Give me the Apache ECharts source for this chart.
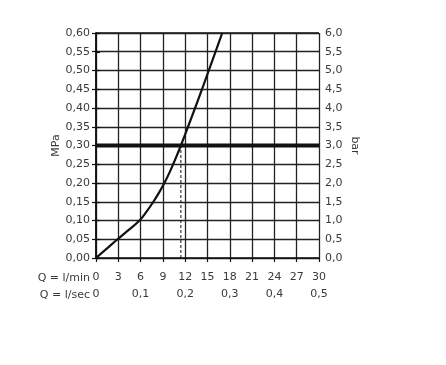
<!DOCTYPE html>
<html><head><meta charset="utf-8">
<script src="https://cdn.jsdelivr.net/npm/echarts@6/dist/echarts.min.js"></script>
<style>html,body{margin:0;padding:0;background:#fff}#c{width:446px;height:365px}</style>
</head><body><div id="c"></div>
<script>
// Flow curve: Q (l/min) vs pressure (MPa)
const flowLmin = [0, 1.45, 2.9, 4.4, 5.85, 6.85, 7.72, 8.5, 9.2, 9.82, 10.38, 10.91, 11.42, 12.38, 13.33, 14.26, 15.17, 16.08, 16.98];
const pressureMPa = [0, 0.025, 0.05, 0.075, 0.10, 0.125, 0.15, 0.175, 0.20, 0.225, 0.25, 0.275, 0.30, 0.35, 0.40, 0.45, 0.50, 0.55, 0.60];
const refPressure = 0.30;
const refFlow = 11.42;
const xMinLabel = 'Q = l/min';
const xSecLabel = 'Q = l/sec';

const font = 'DejaVu Sans';
const txt = '#3a3a3a';
const chart = echarts.init(document.getElementById('c'));
const fmtComma = (v, d) => v.toFixed(d).replace('.', ',');

chart.setOption({
  animation: false,
  grid: {left: 96, right: 127, top: 33, bottom: 107, show: false},
  xAxis: [
    {type: 'value', min: 0, max: 30, interval: 3, position: 'bottom',
     axisLine: {show: true, onZero: false, lineStyle: {color: '#111', width: 1.5}},
     axisTick: {show: true, inside: false, length: 4, lineStyle: {color: '#111', width: 1.2}},
     axisLabel: {color: txt, fontFamily: font, fontSize: 11, margin: 14},
     splitLine: {show: true, lineStyle: {color: '#222', width: 1.3}}},
    {type: 'value', min: 0, max: 0.5, interval: 0.1, position: 'bottom',
     axisLine: {show: false}, axisTick: {show: false}, splitLine: {show: false},
     axisLabel: {color: txt, fontFamily: font, fontSize: 11, margin: 31,
       formatter: v => v === 0 ? '0' : fmtComma(v, 1)}}
  ],
  yAxis: [
    {type: 'value', min: 0, max: 0.6, interval: 0.05, position: 'left',
     name: 'MPa', nameLocation: 'middle', nameGap: 28, nameRotate: 90,
     nameTextStyle: {color: txt, fontFamily: font, fontSize: 11},
     axisLine: {show: true, lineStyle: {color: '#111', width: 1.5}},
     axisTick: {show: true, length: 4, lineStyle: {color: '#111', width: 1.2}},
     axisLabel: {color: txt, fontFamily: font, fontSize: 11, margin: 6, formatter: v => fmtComma(v, 2)},
     splitLine: {show: true, lineStyle: {color: '#222', width: 1.3}}},
    {type: 'value', min: 0, max: 6, interval: 0.5, position: 'right',
     name: 'bar', nameLocation: 'middle', nameGap: 30, nameRotate: -90,
     nameTextStyle: {color: txt, fontFamily: font, fontSize: 11},
     axisLine: {show: true, lineStyle: {color: '#111', width: 1.5}},
     axisTick: {show: true, length: 4, lineStyle: {color: '#111', width: 1.2}},
     axisLabel: {color: txt, fontFamily: font, fontSize: 11, margin: 6, formatter: v => fmtComma(v, 1)},
     splitLine: {show: false}}
  ],
  graphic: [
    {type: 'line', shape: {x1: 96, y1: 33, x2: 319, y2: 33}, style: {stroke: '#111', lineWidth: 1.5}},
    {type: 'text', x: 90, y: 278, style: {text: xMinLabel, fill: txt, font: '11px ' + font, textAlign: 'right', textVerticalAlign: 'middle'}},
    {type: 'text', x: 90, y: 295, style: {text: xSecLabel, fill: txt, font: '11px ' + font, textAlign: 'right', textVerticalAlign: 'middle'}}
  ],
  series: [
    {type: 'line', data: [[0, refPressure], [30, refPressure]], symbol: 'none',
     lineStyle: {color: '#111', width: 4}, z: 3},
    {type: 'line', data: [[refFlow, 0], [refFlow, refPressure]], symbol: 'none',
     lineStyle: {color: '#111', width: 1, type: [3, 2]}, z: 3},
    {type: 'line', data: flowLmin.map((x, i) => [x, pressureMPa[i]]), symbol: 'none',
     smooth: 0.4,
     lineStyle: {color: '#111', width: 2.2}, z: 4}
  ]
});
</script></body></html>
